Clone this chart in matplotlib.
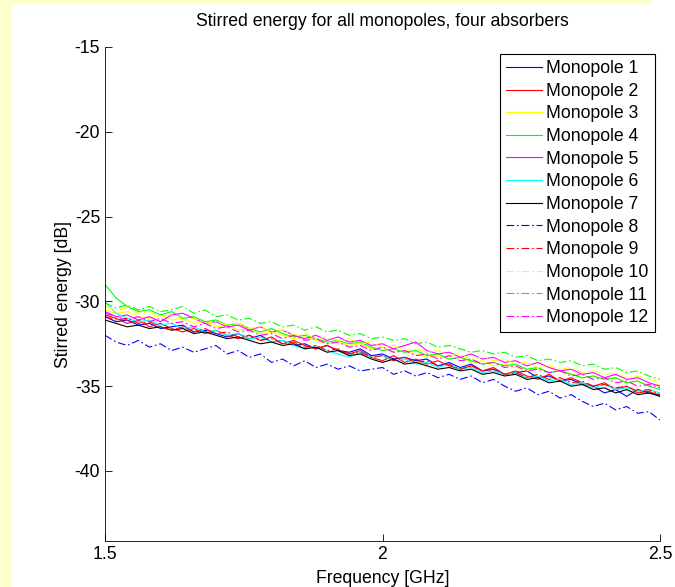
import matplotlib.pyplot as plt
import matplotlib.patches as mpatches
import numpy as np

plt.rcParams['font.family'] = ['Liberation Sans', 'DejaVu Sans']
plt.rcParams['axes.unicode_minus'] = False

# frequency axis [GHz], 51 samples
freq = np.linspace(1.5, 2.5, 51)

# stirred energy [dB]
m1 = [-30.9, -31.2, -31.1, -31.4, -31.3, -31.6, -31.5, -31.4, -31.8, -31.7,
      -31.9, -32.1, -31.9, -32.2, -32.0, -32.4, -32.3, -32.6, -32.5, -32.8,
      -32.6, -32.9, -33.0, -32.8, -33.2, -33.1, -33.4, -33.3, -33.5, -33.4,
      -33.8, -33.6, -33.9, -33.7, -34.1, -34.0, -34.3, -34.2, -34.1, -34.5,
      -34.4, -34.7, -34.6, -34.9, -35.0, -35.4, -35.2, -35.6, -35.2, -35.4,
      -35.5]
m2 = [-30.8, -31.0, -31.3, -31.1, -31.5, -31.3, -31.6, -31.8, -31.6, -31.9,
      -31.7, -32.0, -32.2, -32.0, -32.3, -32.1, -32.5, -32.3, -32.6, -32.8,
      -32.6, -32.9, -33.1, -32.9, -33.3, -33.5, -33.2, -33.6, -33.4, -33.7,
      -33.5, -33.8, -34.0, -33.8, -34.1, -33.9, -34.3, -34.1, -34.4, -34.6,
      -34.3, -34.7, -34.5, -34.8, -35.0, -34.8, -35.2, -35.0, -35.4, -35.3,
      -35.6]
m3 = [-30.5, -30.7, -30.6, -30.9, -31.0, -30.8, -31.1, -31.0, -31.3, -31.2,
      -31.5, -31.4, -31.7, -31.6, -31.9, -31.8, -32.0, -32.2, -32.1, -32.3,
      -32.5, -32.4, -32.6, -32.5, -32.8, -32.7, -33.0, -32.9, -33.1, -33.3,
      -33.2, -33.4, -33.3, -33.6, -33.5, -33.8, -33.7, -33.9, -34.1, -33.9,
      -34.2, -34.0, -34.3, -34.5, -34.4, -34.6, -34.5, -34.8, -34.7, -35.0,
      -34.9]
m4 = [-29.0, -29.8, -30.3, -30.6, -30.5, -30.8, -30.6, -31.0, -30.9, -31.2,
      -31.1, -31.4, -31.3, -31.6, -31.8, -31.6, -31.9, -32.1, -32.0, -32.2,
      -32.4, -32.3, -32.5, -32.4, -32.7, -32.9, -32.8, -33.0, -32.9, -33.2,
      -33.1, -33.4, -33.3, -33.5, -33.7, -33.6, -33.8, -33.7, -34.0, -33.9,
      -34.2, -34.1, -34.3, -34.5, -34.4, -34.6, -34.5, -34.8, -34.7, -35.0,
      -35.2]
m5 = [-30.6, -30.9, -30.8, -31.1, -30.9, -31.2, -30.8, -30.7, -31.0, -31.3,
      -31.2, -31.5, -31.4, -31.7, -31.5, -31.8, -31.7, -32.0, -32.2, -32.0,
      -32.3, -32.1, -32.4, -32.3, -32.6, -32.5, -32.8, -32.6, -32.4, -32.9,
      -33.1, -33.0, -33.3, -33.1, -33.4, -33.3, -33.6, -33.5, -33.8, -33.6,
      -33.9, -34.1, -34.0, -34.3, -34.2, -34.5, -34.3, -34.6, -34.5, -34.8,
      -35.0]
m6 = [-30.0, -30.7, -31.0, -31.2, -31.1, -31.4, -31.3, -31.6, -31.5, -31.8,
      -31.7, -32.0, -31.9, -32.2, -32.1, -32.4, -32.3, -32.6, -32.8, -32.6,
      -32.9, -33.1, -33.3, -33.0, -33.3, -33.2, -33.5, -33.4, -33.7, -33.6,
      -33.9, -33.7, -34.0, -33.9, -34.2, -34.1, -34.3, -34.2, -34.5, -34.4,
      -34.7, -34.6, -34.9, -34.8, -35.1, -34.9, -35.2, -35.1, -35.3, -35.2,
      -35.4]
m7 = [-31.1, -31.3, -31.5, -31.4, -31.6, -31.5, -31.7, -31.6, -31.9, -31.8,
      -32.0, -32.2, -32.1, -32.3, -32.5, -32.4, -32.6, -32.5, -32.8, -32.7,
      -33.0, -32.9, -33.2, -33.1, -33.4, -33.6, -33.4, -33.7, -33.6, -33.8,
      -34.0, -33.9, -34.1, -34.0, -34.3, -34.2, -34.4, -34.3, -34.6, -34.5,
      -34.8, -34.7, -35.0, -34.9, -35.2, -35.1, -35.4, -35.2, -35.5, -35.4,
      -35.6]
m8 = [-32.0, -32.4, -32.6, -32.3, -32.7, -32.5, -32.9, -32.7, -33.0, -32.8,
      -32.6, -33.1, -32.9, -33.3, -33.1, -33.6, -33.4, -33.8, -33.5, -33.9,
      -33.7, -34.0, -33.8, -34.1, -34.0, -33.9, -34.3, -34.1, -34.4, -34.2,
      -34.5, -34.3, -34.6, -34.4, -34.8, -34.6, -35.0, -35.3, -35.1, -35.5,
      -35.3, -35.7, -35.5, -35.9, -36.2, -36.0, -36.4, -36.2, -36.6, -36.5,
      -37.0]
m9 = [-30.9, -31.1, -31.0, -31.3, -31.2, -31.5, -31.7, -31.5, -31.8, -31.6,
      -31.9, -31.8, -32.1, -32.0, -32.3, -32.2, -32.5, -32.4, -32.7, -32.6,
      -32.9, -32.8, -33.1, -33.0, -33.3, -33.2, -33.5, -33.3, -33.6, -33.5,
      -33.8, -33.7, -34.0, -33.8, -34.1, -34.0, -34.3, -34.2, -34.5, -34.3,
      -34.6, -34.5, -34.8, -34.7, -35.0, -34.9, -35.1, -35.0, -35.3, -35.2,
      -35.5]
m10 = [-30.3, -30.5, -30.4, -30.7, -30.6, -30.9, -30.8, -31.1, -31.0, -31.3,
       -31.2, -31.4, -31.3, -31.6, -31.5, -31.8, -31.7, -32.0, -31.9, -32.2,
       -32.1, -32.3, -32.2, -32.5, -32.4, -32.7, -32.6, -32.9, -32.8, -33.0,
       -32.9, -33.2, -33.1, -33.4, -33.3, -33.5, -33.4, -33.7, -33.6, -33.9,
       -33.8, -34.0, -33.9, -34.2, -34.1, -34.3, -34.2, -34.5, -34.4, -34.6,
       -34.7]
m11 = [-30.1, -30.4, -30.2, -30.5, -30.3, -30.6, -30.5, -30.3, -30.7, -30.5,
       -30.9, -30.8, -31.1, -31.0, -31.3, -31.2, -31.5, -31.4, -31.7, -31.5,
       -31.8, -31.7, -32.0, -31.9, -32.2, -32.1, -32.3, -32.2, -32.5, -32.4,
       -32.7, -32.6, -32.8, -33.0, -32.9, -33.1, -33.0, -33.3, -33.2, -33.5,
       -33.4, -33.6, -33.5, -33.8, -33.7, -34.0, -33.9, -34.2, -34.1, -34.4,
       -34.6]
m12 = [-30.7, -30.9, -31.1, -30.9, -31.2, -31.0, -31.3, -31.2, -31.5, -31.3,
       -31.6, -31.5, -31.8, -31.7, -32.0, -31.9, -32.2, -32.0, -32.3, -32.2,
       -32.5, -32.4, -32.7, -32.6, -32.9, -32.7, -33.0, -32.9, -33.2, -33.1,
       -33.4, -33.2, -33.5, -33.4, -33.7, -33.6, -33.9, -33.8, -34.1, -34.0,
       -34.2, -34.1, -34.4, -34.3, -34.6, -34.5, -34.8, -34.7, -35.0, -34.9,
       -35.1]

series = [m1, m2, m3, m4, m5, m6, m7, m8, m9, m10, m11, m12]
labels = ["Monopole %d" % k for k in range(1, 13)]
colors = ['#0000ff', '#ff0000', '#ffff00', '#00ff00', '#ff00ff', '#00ffff', '#000000',
          '#0000ff', '#ff0000', '#ffff00', '#00ff00', '#ff00ff']
dashdot = (0, (7, 2.5, 1.5, 2.5))
styles = ['-'] * 7 + [dashdot] * 5

fs = 12.7

fig = plt.figure(figsize=(6.75, 5.87), dpi=100)
fig.patch.set_facecolor('white')
# yellow page border
fig.patches.append(mpatches.Rectangle((0, 0), 11 / 675, 1, transform=fig.transFigure,
                                      color='#ffffcc', zorder=0))
fig.patches.append(mpatches.Rectangle((0, 1 - 3 / 587), 651 / 675, 3 / 587,
                                      transform=fig.transFigure, color='#ffffcc', zorder=0))

ax = fig.add_axes([105 / 675, 46 / 587, 555 / 675, 494 / 587])
for y, lab, c, ls in zip(series, labels, colors, styles):
    ax.plot(freq, y, color=c, linestyle=ls, linewidth=0.8, label=lab)

ax.set_xlim(1.5, 2.5)
ax.set_ylim(-44.13, -15)
ax.set_xticks([1.5, 2, 2.5])
ax.set_xticklabels(['1.5', '2', '2.5'])
ax.set_yticks([-40, -35, -30, -25, -20, -15])
ax.tick_params(direction='in', length=5, width=0.6, labelsize=fs, pad=3.5)
ax.spines['top'].set_visible(False)
ax.spines['right'].set_visible(False)
ax.spines['left'].set_linewidth(0.6)
ax.spines['bottom'].set_linewidth(0.6)

ax.set_title("Stirred energy for all monopoles, four absorbers", fontsize=fs, pad=15)
ax.set_xlabel("Frequency [GHz]", fontsize=fs, labelpad=5)
ax.set_ylabel("Stirred energy [dB]", fontsize=fs, labelpad=2)

leg = ax.legend(loc='upper right', bbox_to_anchor=(0.991, 0.986), fontsize=fs,
                frameon=True, fancybox=False, edgecolor='black', framealpha=1,
                handlelength=2.05, handletextpad=0.23, labelspacing=0.32,
                borderpad=0.35, borderaxespad=0)
leg.get_frame().set_linewidth(0.8)

fig.savefig('out.png', dpi=100)
